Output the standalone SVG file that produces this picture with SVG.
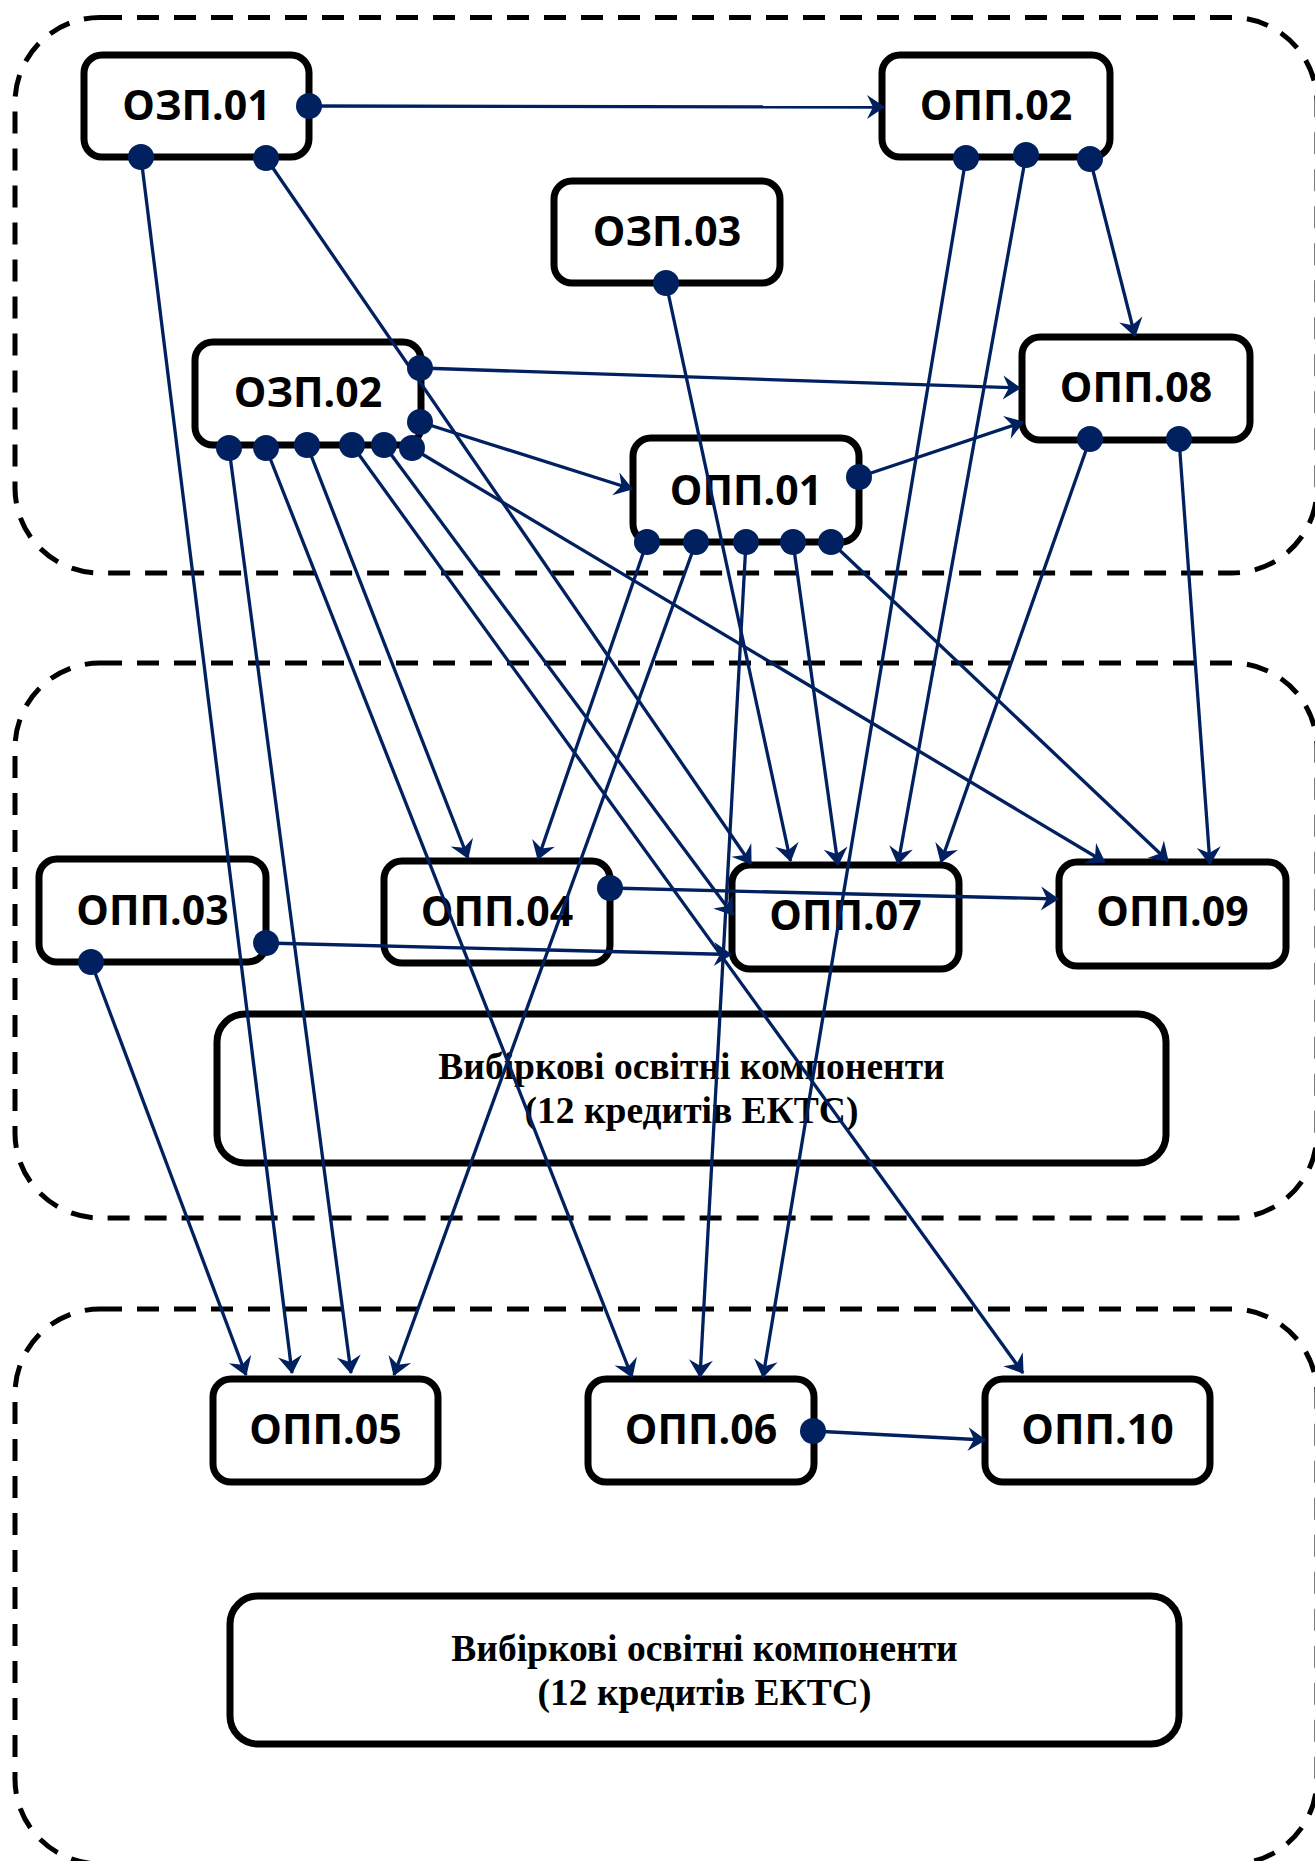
<svg xmlns="http://www.w3.org/2000/svg" width="1315" height="1861" viewBox="0 0 1315 1861">
<style>
.grp{fill:none;stroke:#000;stroke-width:5;stroke-dasharray:22 15}
.box{fill:#fff;stroke:#000;stroke-width:7}
.lbl{font-family:"Open Sans","Liberation Sans",sans-serif;font-weight:700;font-size:41px;fill:#000;text-anchor:middle}
.sel{font-family:"Liberation Serif","Times New Roman",serif;font-weight:700;font-size:37.5px;fill:#000;text-anchor:middle}
.c line{stroke:#002060;stroke-width:3.3;marker-end:url(#ah)}
.c circle{fill:#002060}
</style>
<defs>
<marker id="ah" markerUnits="userSpaceOnUse" orient="auto" overflow="visible" markerWidth="20" markerHeight="26" refX="0" refY="0">
<path d="M1,0 L-17,-12 L-11,0 L-17,12 Z" fill="#002060"/>
</marker>
</defs>
<g id="groups">
<rect id="sem1" class="grp" x="15" y="17.5" width="1302" height="555.5" rx="85" ry="85"/>
<rect id="sem2" class="grp" x="15" y="663" width="1302" height="555" rx="85" ry="85"/>
<rect id="sem3" class="grp" x="15" y="1309" width="1302" height="555" rx="85" ry="85"/>
</g>
<g id="nodes">
<g id="OZP01"><rect class="box" x="84" y="55" width="225" height="102" rx="18"/><text class="lbl" x="196.5" y="120">ОЗП.01</text></g>
<g id="OPP02"><rect class="box" x="882" y="55" width="228" height="102" rx="18"/><text class="lbl" x="996" y="120">ОПП.02</text></g>
<g id="OZP03"><rect class="box" x="554" y="181" width="226" height="102" rx="18"/><text class="lbl" x="667" y="246">ОЗП.03</text></g>
<g id="OZP02"><rect class="box" x="195" y="342" width="226" height="103" rx="18"/><text class="lbl" x="308" y="407">ОЗП.02</text></g>
<g id="OPP08"><rect class="box" x="1022" y="337" width="228" height="103" rx="18"/><text class="lbl" x="1136" y="402">ОПП.08</text></g>
<g id="OPP01"><rect class="box" x="633" y="438" width="226" height="104" rx="18"/><text class="lbl" x="746" y="505">ОПП.01</text></g>
<g id="OPP03"><rect class="box" x="39" y="859" width="227" height="103" rx="18"/><text class="lbl" x="152.5" y="925">ОПП.03</text></g>
<g id="OPP04"><rect class="box" x="384" y="861" width="226" height="102" rx="18"/><text class="lbl" x="497" y="926">ОПП.04</text></g>
<g id="OPP07"><rect class="box" x="732" y="865" width="227" height="104" rx="18"/><text class="lbl" x="845.5" y="930">ОПП.07</text></g>
<g id="OPP09"><rect class="box" x="1059" y="862" width="227" height="104" rx="18"/><text class="lbl" x="1172.5" y="926">ОПП.09</text></g>
<g id="VOK1"><rect class="box" x="217" y="1014" width="949" height="149" rx="28"/><text class="sel" x="691.5" y="1079">Вибіркові освітні компоненти</text><text class="sel" x="691.5" y="1123">(12 кредитів ЕКТС)</text></g>
<g id="OPP05"><rect class="box" x="213" y="1379" width="225" height="103" rx="18"/><text class="lbl" x="325.5" y="1444">ОПП.05</text></g>
<g id="OPP06"><rect class="box" x="588" y="1379" width="226" height="103" rx="18"/><text class="lbl" x="701" y="1444">ОПП.06</text></g>
<g id="OPP10"><rect class="box" x="985" y="1379" width="225" height="103" rx="18"/><text class="lbl" x="1097.5" y="1444">ОПП.10</text></g>
<g id="VOK2"><rect class="box" x="230" y="1596" width="949" height="148" rx="28"/><text class="sel" x="704.5" y="1661">Вибіркові освітні компоненти</text><text class="sel" x="704.5" y="1705">(12 кредитів ЕКТС)</text></g>
</g>
<g id="connectors" class="c">
<line x1="309" y1="106" x2="884" y2="107"/>
<line x1="141" y1="157" x2="292" y2="1373"/>
<line x1="266" y1="158" x2="751" y2="864"/>
<line x1="666" y1="283" x2="790.5" y2="861"/>
<line x1="966" y1="158" x2="763" y2="1377"/>
<line x1="1026" y1="155" x2="898" y2="864"/>
<line x1="1090" y1="159" x2="1135" y2="336"/>
<line x1="420" y1="368" x2="1020" y2="388"/>
<line x1="420" y1="422" x2="632" y2="489"/>
<line x1="229" y1="448" x2="351" y2="1373"/>
<line x1="266" y1="448" x2="632" y2="1377"/>
<line x1="307" y1="445" x2="468" y2="858"/>
<line x1="352" y1="445" x2="1023" y2="1373"/>
<line x1="384" y1="445" x2="733" y2="915"/>
<line x1="412" y1="448" x2="1104.5" y2="862"/>
<line x1="859" y1="477" x2="1023" y2="422"/>
<line x1="647" y1="542" x2="538" y2="859"/>
<line x1="696" y1="542" x2="394" y2="1375"/>
<line x1="746" y1="542" x2="700" y2="1377"/>
<line x1="793" y1="542" x2="838" y2="865"/>
<line x1="831" y1="542" x2="1168" y2="861"/>
<line x1="1090" y1="439" x2="941" y2="862"/>
<line x1="1179" y1="439" x2="1210" y2="864"/>
<line x1="91" y1="962" x2="246" y2="1375"/>
<line x1="266" y1="943" x2="731" y2="954.5"/>
<line x1="610" y1="888" x2="1058" y2="899"/>
<line x1="813" y1="1431" x2="985" y2="1440"/>
<circle cx="309" cy="106" r="13"/>
<circle cx="141" cy="157" r="13"/>
<circle cx="266" cy="158" r="13"/>
<circle cx="966" cy="158" r="13"/>
<circle cx="1026" cy="155" r="13"/>
<circle cx="1090" cy="159" r="13"/>
<circle cx="666" cy="283" r="13"/>
<circle cx="420" cy="368" r="13"/>
<circle cx="420" cy="422" r="13"/>
<circle cx="229" cy="448" r="13"/>
<circle cx="266" cy="448" r="13"/>
<circle cx="307" cy="445" r="13"/>
<circle cx="352" cy="445" r="13"/>
<circle cx="384" cy="445" r="13"/>
<circle cx="412" cy="448" r="13"/>
<circle cx="859" cy="477" r="13"/>
<circle cx="647" cy="542" r="13"/>
<circle cx="696" cy="542" r="13"/>
<circle cx="746" cy="542" r="13"/>
<circle cx="793" cy="542" r="13"/>
<circle cx="831" cy="542" r="13"/>
<circle cx="1090" cy="439" r="13"/>
<circle cx="1179" cy="439" r="13"/>
<circle cx="91" cy="962" r="13"/>
<circle cx="266" cy="943" r="13"/>
<circle cx="610" cy="888" r="13"/>
<circle cx="813" cy="1431" r="13"/>
</g>
</svg>
